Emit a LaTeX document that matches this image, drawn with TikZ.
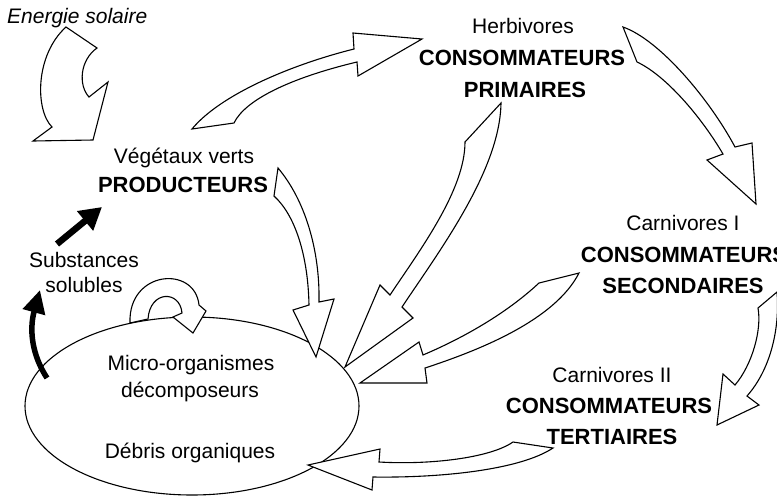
\documentclass[tikz,border=0pt]{standalone}
\usepackage{fontspec}
\setmainfont{Liberation Sans}
\usetikzlibrary{arrows.meta}
\begin{document}
\begin{tikzpicture}[x=1pt,y=-1pt,
  txt/.style={inner sep=0pt,anchor=base,font=\fontsize{21}{25}\selectfont},
  bold/.style={txt,font=\fontsize{22}{26}\selectfont\bfseries},
  blockarrow/.style={draw=black,fill=white,line width=1.1pt,line join=miter},
  solid arrow/.style={draw=black,line width=6.5pt,-{Triangle[length=22pt,width=24pt]}},
  thin arrow/.style={draw=black,line width=5.5pt,-{Triangle[length=23pt,width=22pt]}}]
\useasboundingbox (0,0) rectangle (777,496);
\fill[white] (0,0) rectangle (777,496);

% decomposer pool
\draw[line width=1.1pt] (192,406) ellipse [x radius=167, y radius=89];

% labels
\node[txt,anchor=base west,font=\fontsize{21}{25}\selectfont\itshape] (sun) at (7,23) {Energie solaire};
\node[txt] (vegA) at (184,163) {Végétaux verts};
\node[bold] (vegB) at (183,192) {PRODUCTEURS};
\node[txt] (herbA) at (523,33) {Herbivores};
\node[bold] (herbB) at (522,65) {CONSOMMATEURS};
\node[bold] (herbC) at (525,97) {PRIMAIRES};
\node[txt] (carnA) at (683,230) {Carnivores I};
\node[bold] (carnB) at (684,262) {CONSOMMATEURS};
\node[bold] (carnC) at (683,293) {SECONDAIRES};
\node[txt] (terA) at (612,382) {Carnivores II};
\node[bold] (terB) at (609,413) {CONSOMMATEURS};
\node[bold] (terC) at (612,444) {TERTIAIRES};
\node[txt] (subA) at (84,267) {Substances};
\node[txt] (subB) at (84,292) {solubles};
\node[txt] (decA) at (191,370) {Micro-organismes};
\node[txt] (decB) at (190,397) {décomposeurs};
\node[txt] (decC) at (190,458) {Débris organiques};

% solar energy entering the producers
\path[blockarrow] (66,27) -- (97,48) .. controls (80,60) and (78,85) .. (89,97)
  -- (108,82) -- (93,140) -- (33,141) -- (52,127)
  .. controls (35,110) and (35,55) .. (66,27) -- cycle;

% producers -> herbivores
\path[blockarrow] (192,129) .. controls (220,95) and (290,65) .. (354,49)
  -- (353,33) -- (422,39) -- (358,76) -- (357,62)
  .. controls (290,78) and (245,100) .. (234,123) -- cycle;

% herbivores -> carnivores I
\path[blockarrow] (623,27) .. controls (660,40) and (710,100) .. (735,147)
  -- (752,143) -- (756,204) -- (707,160) -- (723,154)
  .. controls (700,115) and (665,75) .. (637,62) -- cycle;

% carnivores I -> carnivores II
\path[blockarrow] (777,292) .. controls (780,330) and (770,370) .. (747,396)
  -- (759,405) -- (717,425) -- (723,374) -- (735,385)
  .. controls (752,365) and (762,330) .. (758,308) -- cycle;

% producers -> decomposers
\path[blockarrow] (278,168) .. controls (305,200) and (320,250) .. (319,302)
  -- (334,299) -- (316,357) -- (293,310) -- (309,305)
  .. controls (308,255) and (295,215) .. (274,196) -- cycle;

% herbivores -> decomposers
\path[blockarrow] (501,103) .. controls (500,170) and (440,250) .. (402,307)
  -- (413,318) -- (345,367) -- (380,285) -- (390,295)
  .. controls (420,250) and (465,190) .. (465,142) -- cycle;

% carnivores I -> decomposers
\path[blockarrow] (539,283) .. controls (510,310) and (470,335) .. (423,355)
  -- (419,342) -- (360,383) -- (427,383) -- (425,368)
  .. controls (480,350) and (555,320) .. (579,273) -- cycle;

% carnivores II -> decomposers
\path[blockarrow] (513,442) .. controls (490,458) and (430,465) .. (379,462)
  -- (380,449) -- (308,465) -- (372,490) -- (373,477)
  .. controls (440,478) and (520,470) .. (553,448) -- cycle;

% recycling loop on the pool
\path[blockarrow] (130,323) .. controls (128,270) and (195,265) .. (199,305)
  -- (206,311) -- (193,333) -- (173,317) -- (182,313)
  .. controls (180,290) and (150,290) .. (148,319) -- cycle;

% mineral cycle: pool -> soluble substances -> producers
\coordinate (poolOut) at (47,378);
\coordinate (subIn) at (40,290);
\coordinate (subOut) at (57,244);
\coordinate (vegIn) at (102,207);
\draw[thin arrow] (poolOut) .. controls (32,355) and (29,330) .. (subIn);
\draw[solid arrow] (subOut) -- (vegIn);
\end{tikzpicture}
\end{document}
